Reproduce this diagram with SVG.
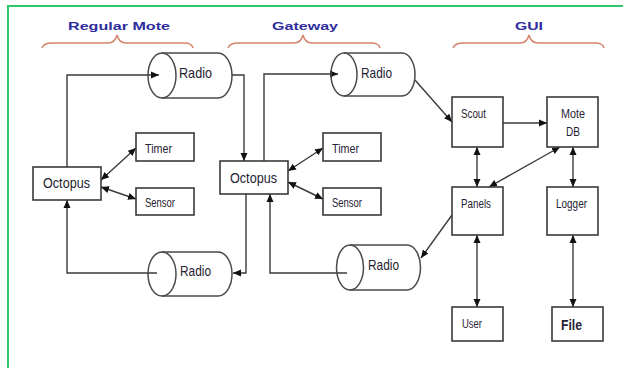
<svg xmlns="http://www.w3.org/2000/svg" width="623" height="368" viewBox="0 0 623 368">
<style>
.box{fill:#fff;stroke:#3a3a3a;stroke-width:1.6}
.cyl{fill:#fff;stroke:#4a4a4a;stroke-width:1.5}
.t{font-family:"Liberation Sans",Arial,sans-serif;fill:#262233}
.lbl{font-family:"Liberation Sans",Arial,sans-serif;font-weight:bold;font-size:11px;fill:#2e2c9c}
.brace{fill:none;stroke:#d4846c;stroke-width:1.5}
.c{fill:none;stroke:#3a3a3a;stroke-width:1.4}
.a{marker-end:url(#ah)}
.d{marker-end:url(#ah);marker-start:url(#ah)}
</style>
<defs>
<marker id="ah" markerUnits="userSpaceOnUse" markerWidth="9" markerHeight="8" refX="8" refY="4" orient="auto-start-reverse">
<path d="M0,0.5 L8,4 L0,7.5 z" fill="#111"/>
</marker>
</defs>
<rect width="623" height="368" fill="#fff"/>
<rect x="8" y="6" width="700" height="500" fill="none" stroke="#2fc66a" stroke-width="2"/>

<g id="labels">
<text class="lbl" x="68" y="30" textLength="102" lengthAdjust="spacingAndGlyphs">Regular Mote</text>
<path class="brace" d="M42,48 Q44,43 52,43 H108 Q115,43 117,35 Q119,43 126,43 H184 Q192,43 193,48"/>
<text class="lbl" x="272" y="30" textLength="66" lengthAdjust="spacingAndGlyphs">Gateway</text>
<path class="brace" d="M228,48 Q230,43 238,43 H294 Q301,43 303,35 Q305,43 312,43 H371 Q379,43 380,48"/>
<text class="lbl" x="515" y="30" textLength="28" lengthAdjust="spacingAndGlyphs">GUI</text>
<path class="brace" d="M453,48 Q455,43 463,43 H520 Q527,43 529,35 Q531,43 538,43 H595 Q603,43 604,48"/>
</g>

<g id="connectors">
<path class="c a" d="M67,167 V75 H159"/>
<path class="c a" d="M232,75 H244 V161"/>
<path class="c a" d="M246,194 V273 H233"/>
<path class="c a" d="M157,273 H67 V200"/>
<path class="c d" d="M101,180 L136,148"/>
<path class="c d" d="M101,187 L136,199"/>
<path class="c d" d="M288,171 L323,148"/>
<path class="c d" d="M288,182 L323,199"/>
<path class="c a" d="M264,161 V74 H338"/>
<path class="c a" d="M415,80 L452,122"/>
<path class="c a" d="M503,123 H547"/>
<path class="c d" d="M477,147 V187"/>
<path class="c d" d="M560,147 L489,187"/>
<path class="c d" d="M573,147 V187"/>
<path class="c a" d="M452,215 L421,258"/>
<path class="c a" d="M347,273 H270 V194"/>
<path class="c d" d="M477,235 V307"/>
<path class="c d" d="M573,235 V307"/>
</g>

<g id="radio-mote-top">
<path class="cyl" d="M162,53 H218 A14,22.5 0 0 1 218,98 H162"/>
<ellipse class="cyl" cx="162" cy="75.5" rx="14" ry="22.5" fill="none" style="fill:none"/>
<text class="t" x="179" y="78" font-size="15" textLength="33" lengthAdjust="spacingAndGlyphs">Radio</text>
</g>
<g id="radio-mote-bottom">
<path class="cyl" d="M162,252 H218 A14,22 0 0 1 218,296 H162"/>
<ellipse class="cyl" cx="162" cy="274" rx="14" ry="22" style="fill:none"/>
<text class="t" x="180" y="276" font-size="15" textLength="31" lengthAdjust="spacingAndGlyphs">Radio</text>
</g>
<g id="radio-gw-top">
<path class="cyl" d="M344,53 H402 A13,21.5 0 0 1 402,96 H344"/>
<ellipse class="cyl" cx="344" cy="74.5" rx="13" ry="21.5" style="fill:none"/>
<text class="t" x="361" y="78" font-size="15" textLength="31" lengthAdjust="spacingAndGlyphs">Radio</text>
</g>
<g id="radio-gw-bottom">
<path class="cyl" d="M350,245 H407 A13.5,22.5 0 0 1 407,290 H350"/>
<ellipse class="cyl" cx="350" cy="267.5" rx="13.5" ry="22.5" style="fill:none"/>
<text class="t" x="368" y="270" font-size="15" textLength="31" lengthAdjust="spacingAndGlyphs">Radio</text>
</g>

<g id="octopus-mote">
<rect class="box" x="33" y="167" width="68" height="33"/>
<text class="t" x="43" y="188" font-size="15" textLength="47" lengthAdjust="spacingAndGlyphs">Octopus</text>
</g>
<g id="timer-mote">
<rect class="box" x="136" y="133" width="58" height="28"/>
<text class="t" x="145" y="153" font-size="12" textLength="27" lengthAdjust="spacingAndGlyphs">Timer</text>
</g>
<g id="sensor-mote">
<rect class="box" x="136" y="188" width="58" height="27"/>
<text class="t" x="145" y="207" font-size="12" textLength="30" lengthAdjust="spacingAndGlyphs">Sensor</text>
</g>

<g id="octopus-gw">
<rect class="box" x="220" y="161" width="68" height="33"/>
<text class="t" x="230" y="183" font-size="15" textLength="47" lengthAdjust="spacingAndGlyphs">Octopus</text>
</g>
<g id="timer-gw">
<rect class="box" x="323" y="133" width="58" height="28"/>
<text class="t" x="332" y="153" font-size="12" textLength="27" lengthAdjust="spacingAndGlyphs">Timer</text>
</g>
<g id="sensor-gw">
<rect class="box" x="323" y="188" width="58" height="27"/>
<text class="t" x="332" y="207" font-size="12" textLength="30" lengthAdjust="spacingAndGlyphs">Sensor</text>
</g>

<g id="scout">
<rect class="box" x="452" y="97" width="51" height="50"/>
<text class="t" x="461" y="118" font-size="12" textLength="25" lengthAdjust="spacingAndGlyphs">Scout</text>
</g>
<g id="mote-db">
<rect class="box" x="547" y="97" width="51" height="50"/>
<text class="t" x="561" y="118" font-size="12" textLength="24" lengthAdjust="spacingAndGlyphs">Mote</text>
<text class="t" x="566" y="136" font-size="12" textLength="14" lengthAdjust="spacingAndGlyphs">DB</text>
</g>
<g id="panels">
<rect class="box" x="452" y="187" width="51" height="48"/>
<text class="t" x="461" y="208" font-size="12" textLength="30" lengthAdjust="spacingAndGlyphs">Panels</text>
</g>
<g id="logger">
<rect class="box" x="547" y="187" width="51" height="48"/>
<text class="t" x="556" y="208" font-size="12" textLength="31" lengthAdjust="spacingAndGlyphs">Logger</text>
</g>
<g id="user">
<rect class="box" x="452" y="307" width="51" height="34"/>
<text class="t" x="462" y="328" font-size="12" textLength="20" lengthAdjust="spacingAndGlyphs">User</text>
</g>
<g id="file">
<rect class="box" x="552" y="307" width="51" height="34"/>
<text class="t" x="561" y="330" font-size="15" font-weight="bold" textLength="21" lengthAdjust="spacingAndGlyphs">File</text>
</g>
</svg>
